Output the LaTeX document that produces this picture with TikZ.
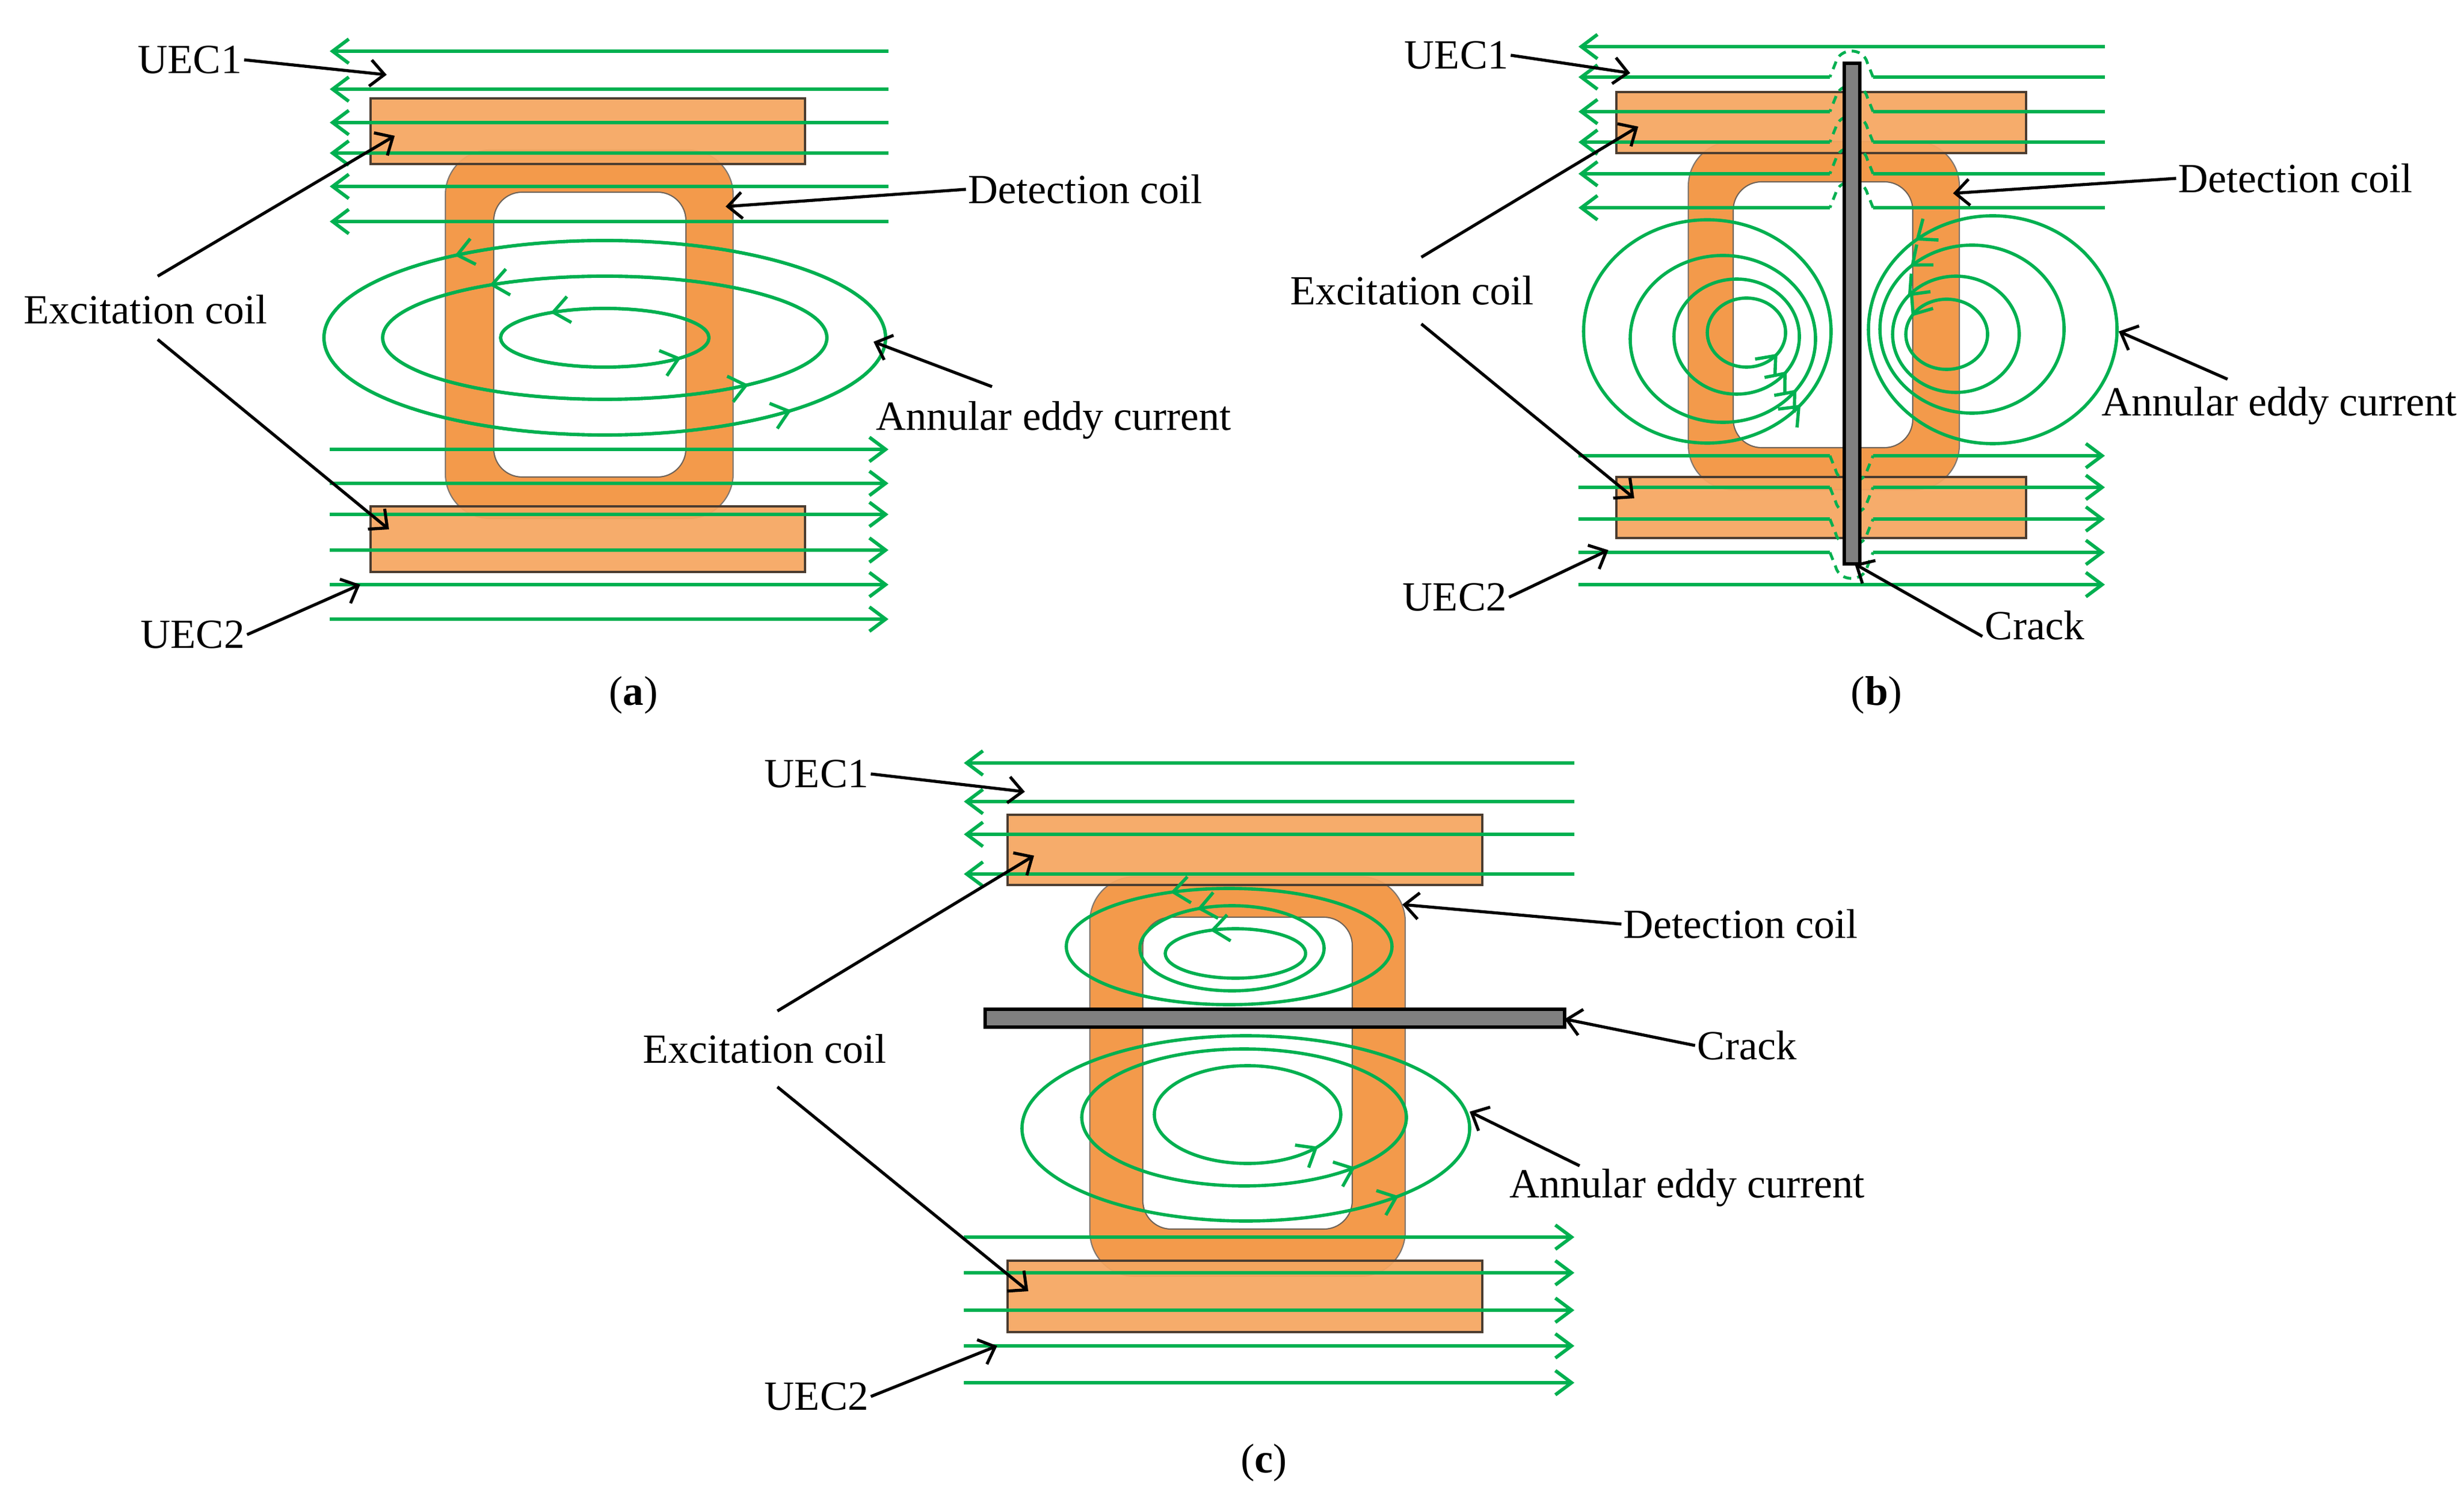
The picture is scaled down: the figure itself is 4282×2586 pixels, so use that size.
\documentclass[tikz,border=0pt]{standalone}
\usepackage{fontspec}
\setmainfont{Liberation Serif}
\usetikzlibrary{arrows.meta,decorations.markings}
\definecolor{gr}{HTML}{00B050}
\definecolor{coilc}{HTML}{F39A4B}
\definecolor{rectc}{HTML}{F5A660}
\definecolor{edge}{HTML}{4A3C30}
\definecolor{crk}{HTML}{808080}
\tikzset{
 lbl/.style={font=\fontsize{20.5}{24}\selectfont, inner sep=1pt},
 flux/.style={draw=gr, line width=1.7pt, -{Straight Barb[length=8pt,width=12pt,line width=1.7pt]}},
 fluxn/.style={draw=gr, line width=1.7pt},
 fluxd/.style={draw=gr, line width=1.4pt, dash pattern=on 4pt off 3pt},
 ptr/.style={draw=black, line width=1.5pt, -{Straight Barb[length=7pt,width=13pt,line width=1.5pt]}},
 bar/.style={fill=rectc, draw=edge, line width=0.9pt, fill opacity=0.93},
 coil/.style={fill=coilc, draw=edge!70, line width=0.6pt, rounded corners=#1},
 hole/.style={fill=white, draw=edge!80, line width=0.6pt, rounded corners=#1},
 crack/.style={fill=crk, draw=black, line width=1.5pt},
 eddy/.style={draw=gr, line width=1.6pt, postaction={decorate}, decoration={markings,
   mark=at position #1 with {\arrow{Straight Barb[length=8pt,width=13pt,line width=1.6pt]}}}},
}
\newcommand\myell[5]{\draw[eddy=#5] (#1,#2) ++(#3,0) arc[start angle=0,end angle=360,x radius=#3*0.01cm,y radius=#4*0.01cm];}
\begin{document}
\begin{tikzpicture}[x=0.01cm,y=-0.01cm]
\useasboundingbox (0,0) rectangle (4282,2586);
% ================= (a)
\draw[coil=22pt] (774,261) rectangle (1274,901);
\draw[hole=14pt] (858,334) rectangle (1192,829);
\draw[bar] (644,171) rectangle (1399,285);
\draw[bar] (644,880) rectangle (1399,994);
\foreach \y in {89,155,213,266,324,385} \draw[flux] (1544,\y) -- (573,\y);
\foreach \y in {781,840,894,956,1016,1076} \draw[flux] (573,\y) -- (1544,\y);
\myell{1051}{587}{488}{169}{0.37}
\myell{1051}{587}{386}{107}{0.37}
\myell{1051}{587}{181}{51}{0.37}
\myell{1051}{587}{488}{169}{0.9}
\myell{1051}{587}{386}{107}{0.9}
\myell{1051}{587}{181}{51}{0.92}
\node[lbl] (a1) at (330,104) {UEC1};
\node[lbl] (a2) at (1886,329) {Detection coil};
\node[lbl] (a3) at (253,538) {Excitation coil};
\node[lbl] (a4) at (1831,730) {Annular eddy current};
\node[lbl] (a5) at (335,1103) {UEC2};
\node[lbl] (acap) at (1101,1208) {(\textbf{a})};
\coordinate (a1t) at (672,130); \coordinate (a2t) at (1261,359);
\coordinate (a3t) at (686,236); \coordinate (a3u) at (676,920);
\coordinate (a4t) at (1518,594); \coordinate (a5t) at (626,1016);
\draw[ptr] (a1.east) -- (a1t);
\draw[ptr] (a2.west) -- (a2t);
\draw[ptr] (274,480) -- (a3t);
\draw[ptr] (274,590) -- (a3u);
\draw[ptr] (1724,672) -- (a4t);
\draw[ptr] (a5.east) -- (a5t);
% ================= (b)
\draw[coil=22pt] (2934,246) rectangle (3405,851);
\draw[hole=14pt] (3012,316) rectangle (3324,778);
\draw[bar] (2809,160) rectangle (3521,266);
\draw[bar] (2809,829) rectangle (3521,935);
\draw[flux] (3658,81) -- (2743,81);
\foreach \y in {134,194,247,302,361}{
  \draw[flux] (3180,\y) -- (2743,\y);
  \draw[fluxn] (3658,\y) -- (3255,\y);
  \draw[fluxd] (3255,\y) -- (3245,\y-25) .. controls (3238,\y-52) and (3197,\y-52) .. (3190,\y-25) -- (3180,\y);
}
\foreach \y in {792,847,902,960}{
  \draw[fluxn] (2743,\y) -- (3180,\y);
  \draw[fluxd] (3180,\y) -- (3190,\y+25) .. controls (3197,\y+52) and (3238,\y+52) .. (3245,\y+25) -- (3255,\y);
  \draw[flux] (3255,\y) -- (3658,\y);
}
\draw[flux] (2743,1016) -- (3658,1016);
\myell{2967}{576}{215}{194}{0.89}
\myell{2994}{589}{161}{145}{0.9}
\myell{3018}{585}{109}{100}{0.9}
\myell{3035}{578}{68}{60}{0.9}
\myell{3463}{573}{216}{198}{0.36}
\myell{3427}{572}{160}{146}{0.37}
\myell{3399}{581}{110}{101}{0.39}
\myell{3383}{581}{71}{61}{0.42}
\draw[crack] (3205,110) rectangle (3232,980);
\node[lbl] (b1) at (2531,96) {UEC1};
\node[lbl] (b2) at (3989,310) {Detection coil};
\node[lbl] (b3) at (2454,505) {Excitation coil};
\node[lbl] (b4) at (3961,705) {Annular eddy current};
\node[lbl] (b5) at (2528,1038) {UEC2};
\node[lbl] (b6) at (3536,1087) {Crack};
\node[lbl] (bcap) at (3261,1208) {(\textbf{b})};
\coordinate (b1t) at (2833,127); \coordinate (b2t) at (3394,336);
\coordinate (b3t) at (2847,220); \coordinate (b3u) at (2840,866);
\coordinate (b4t) at (3682,576); \coordinate (b5t) at (2795,956);
\coordinate (b6t) at (3223,980);
\draw[ptr] (b1.east) -- (b1t);
\draw[ptr] (b2.west) -- (b2t);
\draw[ptr] (2470,447) -- (b3t);
\draw[ptr] (2470,563) -- (b3u);
\draw[ptr] (3871,659) -- (b4t);
\draw[ptr] (b5.east) -- (b5t);
\draw[ptr] (3445,1106) -- (b6t);
% ================= (c)
\draw[coil=22pt] (1894,1524) rectangle (2442,2218);
\draw[hole=14pt] (1986,1594) rectangle (2350,2136);
\draw[bar] (1751,1416) rectangle (2576,1538);
\draw[bar] (1751,2191) rectangle (2576,2315);
\foreach \y in {1326,1393,1450,1519} \draw[flux] (2736,\y) -- (1675,\y);
\foreach \y in {2150,2212,2277,2339,2403} \draw[flux] (1675,\y) -- (2736,\y);
\myell{2136}{1645}{283}{101}{0.33}
\myell{2141}{1648}{160}{74}{0.33}
\myell{2147}{1657}{122}{43}{0.33}
\myell{2165}{1961}{389}{161}{0.9}
\myell{2162}{1942}{282}{119}{0.9}
\myell{2168}{1937}{162}{85}{0.91}
\draw[crack] (1712,1754) rectangle (2719,1785);
\node[lbl] (c1) at (1419,1345) {UEC1};
\node[lbl] (c2) at (3025,1606) {Detection coil};
\node[lbl] (c3) at (1329,1823) {Excitation coil};
\node[lbl] (c6) at (3036,1817) {Crack};
\node[lbl] (c4) at (2932,2064) {Annular eddy current};
\node[lbl] (c5) at (1419,2427) {UEC2};
\node[lbl] (ccap) at (2196,2542) {(\textbf{c})};
\coordinate (c1t) at (1781,1376); \coordinate (c2t) at (2437,1572);
\coordinate (c3t) at (1797,1487); \coordinate (c3u) at (1787,2244);
\coordinate (c6t) at (2719,1771); \coordinate (c4t) at (2554,1932);
\coordinate (c5t) at (1733,2339);
\draw[ptr] (c1.east) -- (c1t);
\draw[ptr] (c2.west) -- (c2t);
\draw[ptr] (1351,1757) -- (c3t);
\draw[ptr] (1351,1889) -- (c3u);
\draw[ptr] (c6.west) -- (c6t);
\draw[ptr] (2745,2026) -- (c4t);
\draw[ptr] (c5.east) -- (c5t);
\end{tikzpicture}
\end{document}
